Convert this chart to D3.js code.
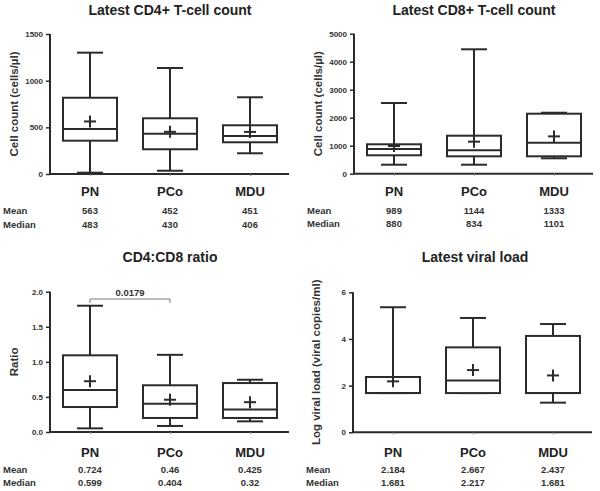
<!DOCTYPE html>
<html><head><meta charset="utf-8">
<script src="https://cdn.jsdelivr.net/npm/d3@7"></script>
<style>
body{margin:0;background:#fff;}
svg{display:block;font-family:"Liberation Sans",Arial,sans-serif;}
</style></head>
<body>
<svg id="c" width="600" height="491"></svg>
<script>
const categories = ["PN","PCo","MDU"];
// [min, q1, median, q3, max]
const cd4Box = [[14,357,483,817,1300],[35,265,430,597,1136],[222,340,406,522,822]];
const cd4Mean = [563,452,451];
const cd4Median = [483,430,406];
const cd8Box = [[321,657,880,1050,2525],[321,621,834,1357,4443],[550,621,1101,2143,2178]];
const cd8Mean = [989,1144,1333];
const cd8Median = [880,834,1101];
const ratioBox = [[0.052,0.356,0.599,1.093,1.80],[0.086,0.20,0.404,0.666,1.10],[0.152,0.20,0.32,0.698,0.745]];
const ratioMean = [0.724,0.46,0.425];
const ratioMedian = [0.599,0.404,0.32];
const vlBox = [[1.681,1.681,1.681,2.37,5.36],[1.681,1.681,2.217,3.64,4.90],[1.27,1.681,1.681,4.13,4.64]];
const vlMean = [2.184,2.667,2.437];
const vlMedian = [1.681,2.217,1.681];
const cd4Ticks = [0,500,1000,1500];
const cd8Ticks = [0,1000,2000,3000,4000,5000];
const ratioTicks = [0,0.5,1.0,1.5,2.0];
const vlTicks = [0,2,4,6];
const pValue = "0.0179";

const svg = d3.select("#c");
const ink = "#2b2b2b";

function panel(o){
  const g = svg.append("g");
  const y = d3.scaleLinear().domain(o.domain).range([o.yb, o.yt]);
  const x = d3.scalePoint().domain(categories).range([o.x0+40, o.x0+200]);
  // title
  g.append("text").attr("x", o.tx).attr("y", o.ty).attr("text-anchor","middle")
    .attr("font-size",14).attr("font-weight","bold").attr("fill","#222").text(o.title);
  // y axis
  const ya = g.append("g").attr("transform",`translate(${o.x0},0)`)
    .call(d3.axisLeft(y).tickValues(o.ticks).tickSize(4).tickPadding(3).tickFormat(o.fmt));
  ya.select(".domain").attr("stroke",ink).attr("stroke-width",2).attr("d",`M0,${o.yb}V${o.yt}`);
  ya.selectAll(".tick line").attr("stroke",ink).attr("stroke-width",1.5);
  ya.selectAll(".tick text").attr("font-size",8).attr("font-weight","bold").attr("fill","#333")
    .attr("font-family","Liberation Sans, Arial, sans-serif");
  // x axis
  const xa = g.append("g").attr("transform",`translate(0,${o.yb})`)
    .call(d3.axisBottom(x).tickSize(2).tickFormat(""));
  xa.select(".domain").attr("stroke",ink).attr("stroke-width",2).attr("d",`M${o.x0},0H${o.x0+239}`);
  xa.selectAll(".tick line").attr("stroke","#888").attr("stroke-width",1);
  // y label
  g.append("text").attr("transform",`translate(${o.lx},${(o.yt+o.yb)/2}) rotate(-90)`)
    .attr("text-anchor","middle").attr("font-size",11.5).attr("font-weight","bold").attr("fill","#333")
    .text(o.ylabel);
  const bw = 54, cw = 26, mw = 12;
  categories.forEach((c,i)=>{
    const [mn,q1,md,q3,mx] = o.box[i];
    const cx = x(c);
    const b = g.append("g").attr("stroke",ink).attr("stroke-width",2).attr("fill","none");
    b.append("line").attr("x1",cx).attr("x2",cx).attr("y1",y(q3)).attr("y2",y(mx));
    b.append("line").attr("x1",cx).attr("x2",cx).attr("y1",y(q1)).attr("y2",y(mn));
    b.append("line").attr("x1",cx-cw/2).attr("x2",cx+cw/2).attr("y1",y(mx)).attr("y2",y(mx));
    b.append("line").attr("x1",cx-cw/2).attr("x2",cx+cw/2).attr("y1",y(mn)).attr("y2",y(mn));
    b.append("rect").attr("x",cx-bw/2).attr("width",bw).attr("y",y(q3)).attr("height",y(q1)-y(q3)).attr("fill","#fff");
    b.append("line").attr("x1",cx-bw/2).attr("x2",cx+bw/2).attr("y1",y(md)).attr("y2",y(md));
    const my = y(o.mean[i]);
    b.append("line").attr("x1",cx-mw/2).attr("x2",cx+mw/2).attr("y1",my).attr("y2",my);
    b.append("line").attr("x1",cx).attr("x2",cx).attr("y1",my-mw/2).attr("y2",my+mw/2);
    // category labels and table
    g.append("text").attr("x",cx).attr("y",o.yb+o.catDy).attr("text-anchor","middle")
      .attr("font-size",13).attr("font-weight","bold").attr("fill","#222").text(c);
    g.append("text").attr("x",cx).attr("y",o.yb+o.meanDy).attr("text-anchor","middle")
      .attr("font-size",9.5).attr("font-weight","bold").attr("fill","#333").text(String(o.mean[i]));
    g.append("text").attr("x",cx).attr("y",o.yb+o.meanDy+13.5).attr("text-anchor","middle")
      .attr("font-size",9.5).attr("font-weight","bold").attr("fill","#333").text(String(o.median[i]));
  });
  g.append("text").attr("x",o.x0-47).attr("y",o.yb+o.meanDy).attr("font-size",9.5).attr("font-weight","bold").attr("fill","#333").text("Mean");
  g.append("text").attr("x",o.x0-47).attr("y",o.yb+o.meanDy+13.5).attr("font-size",9.5).attr("font-weight","bold").attr("fill","#333").text("Median");
  return {g,x,y};
}

panel({title:"Latest CD4+ T-cell count", tx:170, ty:15, x0:50, yt:34, yb:174, domain:[0,1500], ticks:cd4Ticks,
  fmt:d3.format("d"), ylabel:"Cell count (cells/µl)", lx:18, box:cd4Box, mean:cd4Mean, median:cd4Median,
  catDy:22, meanDy:40});
panel({title:"Latest CD8+ T-cell count", tx:474, ty:15, x0:354, yt:33.7, yb:173.7, domain:[0,5000], ticks:cd8Ticks,
  fmt:d3.format("d"), ylabel:"Cell count (cells/µl)", lx:322, box:cd8Box, mean:cd8Mean, median:cd8Median,
  catDy:22, meanDy:40});
const p3 = panel({title:"CD4:CD8 ratio", tx:170, ty:262, x0:50, yt:291.7, yb:432, domain:[0,2], ticks:ratioTicks,
  fmt:d3.format(".1f"), ylabel:"Ratio", lx:18, box:ratioBox, mean:ratioMean, median:ratioMedian,
  catDy:24.5, meanDy:40.5});
panel({title:"Latest viral load", tx:475, ty:262, x0:353, yt:292.3, yb:432.3, domain:[0,6], ticks:vlTicks,
  fmt:d3.format("d"), ylabel:"Log viral load (viral copies/ml)", lx:320, box:vlBox, mean:vlMean, median:vlMedian,
  catDy:24.5, meanDy:40.5});

// significance bracket
const bx1 = p3.x("PN"), bx2 = p3.x("PCo"), by = 299;
p3.g.append("path").attr("d",`M${bx1},${by+4}V${by}H${bx2}V${by+4}`).attr("fill","none").attr("stroke","#777").attr("stroke-width",1);
p3.g.append("text").attr("x",(bx1+bx2)/2).attr("y",by-3).attr("text-anchor","middle").attr("font-size",9.5)
  .attr("font-weight","bold").attr("fill","#333").text(pValue);
</script>
</body></html>
